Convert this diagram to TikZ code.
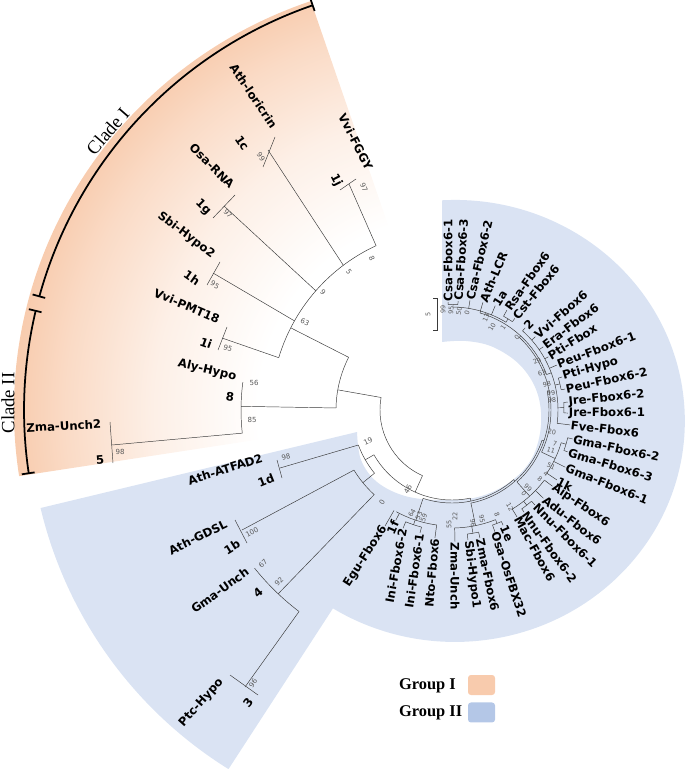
\documentclass[tikz,border=0pt]{standalone}
\usepackage{fontspec}
\setmainfont{DejaVu Sans}
\newfontfamily\cladefont{Liberation Serif}
\usetikzlibrary{calc,positioning}
\definecolor{grpIfill}{HTML}{F8CBAD}
\definecolor{grpIIfill}{HTML}{DAE3F3}
\definecolor{grpIIkey}{HTML}{B4C7E7}
\definecolor{branchgray}{HTML}{3A3A3A}
\pgfdeclareradialshading{grpIfade}{\pgfpoint{0bp}{0bp}}{color(0bp)=(white); color(11bp)=(white); color(17bp)=(grpIfill!30); color(22bp)=(grpIfill!70); color(25bp)=(grpIfill); color(50bp)=(grpIfill)}

\begin{document}
\begin{tikzpicture}[x=0.03cm, y=0.03cm,
  br/.style={draw=branchgray, line width=0.4pt},
  lbl/.style={font=\fontsize{10}{12}\selectfont\bfseries, inner sep=0.6pt},
  bs/.style={font=\fontsize{6}{7}\selectfont, text=black!65, inner sep=0pt},
  bsr/.style={font=\fontsize{5.5}{6}\selectfont, text=black!65, inner sep=0pt},
  cladebar/.style={draw=black, line width=1.5pt},
  cladetxt/.style={font=\cladefont\fontsize{16}{18}\selectfont},
  legtxt/.style={font=\cladefont\bfseries\fontsize{14}{16}\selectfont, anchor=west},
  legkey/.style={minimum width=0.81cm, minimum height=0.6cm, rounded corners=2.5pt, inner sep=0pt}
]
\useasboundingbox (0,0) rectangle (685,-769);
\coordinate (C) at (452,-410);

% group backgrounds
\begin{scope}
  \clip (C) -- (310.8,-1.1) arc[start angle=108.8, end angle=188.8, x radius=438, y radius=432] -- cycle;
  \shade[shading=grpIfade] (C) circle (440);
\end{scope}
\fill[grpIIfill] (442,-200.3) arc[start angle=93.2, end angle=-122, x radius=230, y radius=221]
  -- ($(C)+(238.1:423)$) arc[start angle=238.1, end angle=193.4, radius=423]
  -- plot[smooth, tension=0.6] coordinates {(357,-432) (361,-460) (377,-482) (405,-496) (440,-500) (478,-497) (510,-482) (532,-458) (541,-425) (537,-392) (520,-365) (493,-347) (466,-341) (442,-342)} -- cycle;

% clade bars
\draw[cladebar] ($(C)+(109:428)$) arc[start angle=109, end angle=164.6, radius=428];
\draw[cladebar] ($(C)+(166.6:428)$) arc[start angle=166.6, end angle=188.5, radius=428];
\foreach \a in {109,164.6,166.6,188.5}
  \draw[cladebar] ($(C)+(\a:422)$) -- ($(C)+(\a:435)$);
\node[cladetxt, rotate=49] (cladeI) at ($(C)+(141:443)$) {Clade I};
\node[cladetxt, rotate=90] (cladeII) at (8,-403) {Clade II};

% inner arcs (polar round C)
\foreach \a/\b/\r in {114.8/163.2/181, 153/179/116, 172.4/186.3/211, 170/245.8/72,
    209.85/281.7/90, 200.5/219.2/100, 211.5/227.4/115, 218.7/232.8/253,
    58.4/89.45/103, 86.8/92.1/105.5, 55.6/61.2/107,
    -7.2/48.3/106, 10.5/16.7/111, -1.5/3.9/112,
    -33.7/-16.7/114, -19.9/-13.5/119,
    -58.7/-37.2/116, -54.8/-48.9/121,
    -88.7/-68.35/118, -70.6/-66.1/122, -83/-77.7/125,
    -118.7/-97.6/116, -112.5/-104.6/121,
    20.55/73.9/101, -25.2/47.2/99, -47.95/11/97, -78.5/-18.5/95, -108.15/-48.5/93}
  \draw[br] ($(C)+(\a:\r)$) arc[start angle=\a, end angle=\b, radius=\r];

% radial links between nodes
\foreach \a/\r/\b/\s in {153/116/153/181, 179/116/179/211, 170/72/170/116, 245.8/72/245.8/90,
    209.85/90/209.85/100, 219.2/100/219.2/115, 227.4/115/226.6/253, 281.7/90/281.7/93,
    89.45/103/89.45/105.5, 58.4/103/58.4/107, 13.6/106/13.6/111, 1.2/106/1.2/112,
    -16.7/114/-16.7/119, -51.85/116/-51.85/121, -68.35/118/-68.35/122, -80.35/118/-80.35/125,
    -108.55/116/-108.55/121, 73.9/101/73.9/103, 20.55/101/20.55/106, 47.2/99/47.2/101,
    -25.2/99/-25.2/114, 11/97/11/99, -47.95/97/-47.95/116, -18.5/95/-18.5/97,
    -78.5/95/-78.5/118, -48.5/93/-48.5/95, -108.15/93/-108.15/116}
  \draw[br] ($(C)+(\a:\r)$) -- ($(C)+(\b:\s)$);

% long branches to the leaf pairs
\foreach \a/\r/\x/\y in {114.8/181/349/184, 126.9/181/268/150, 138.8/181/224/206,
    150.5/181/213/273, 163.2/181/222/338, 186.3/211/112/445, 200.5/100/280/468,
    211.5/115/242/530, 232.8/253/245/687}
  \draw[br] ($(C)+(\a:\r)$) -- (\x,-\y);
\foreach \x/\y/\u/\v in {356/179/340/190, 275/137/263/167, 235/195/213/218, 220/262/207/285,
    227/327/218/350, 110/422/113/463, 277/460/282/478, 235/520/247/543, 230/675/258/695}
  \draw[br] (\x,-\y) -- (\u,-\v);
\draw[br] (433,-298) -- (437,-298) -- (437,-330) -- (433,-330);
\node[bsr, rotate=90] (topfive) at (428,-314) {5};

% leaf labels, outer groups
\foreach \x/\y/\r/\t [count=\i] in {370/170/-63/Vvi-FGGY, 275/128/-56/Ath-loricrin,
    233/187/-45/Osa-RNA, 214/256/-37/Sbi-Hypo2, 220/320/-23/Vvi-PMT18, 237/377/-13/Aly-Hypo,
    102/424/3/Zma-Unch2, 263/457/18/Ath-ATFAD2, 227/523/26/Ath-GDSL, 248/570/36/Gma-Unch,
    222/680/48/Ptc-Hypo}
  \node[lbl, anchor=east, rotate=\r] (gene\i) at (\x,-\y) {\t};
\foreach \x/\y/\r/\t [count=\i] in {336/180/-63/1j, 242/143/-56/1c, 203/207/-45/1g,
    192/278/-35/1h, 206/343/-20/1i, 230/397/-8/8, 100/460/5/5, 266/480/22/1d,
    232/547/32/1b, 258/593/40/4, 248/703/52/3}
  \node[lbl, rotate=\r] (sub\i) at (\x,-\y) {\t};

% leaf labels, ring
\foreach \a/\n/\r/\o/\t [count=\i] in {92.1/105.5/108/90/Csa-Fbox6-1, 86.8/105.5/109/86/Csa-Fbox6-3,
    80.7/103/111/77/Csa-Fbox6-2, 74/103/112/67/Ath-LCR, 67.5/103/113/58/1a,
    61.2/107/114/55/Rsa-Fbox6, 55.6/107/111/51/Cst-Fbox6, 48.3/106/110/45/2,
    41.3/106/111/41/Vvi-Fbox6, 34.7/106/111/37/Era-Fbox6, 28.9/106/110/32/Pti-Fbox,
    23.2/106/114/21/Peu-Fbox6-1, 16.7/111/115/16/Pti-Hypo, 10.5/111/115/12/Peu-Fbox6-2,
    3.9/112/116/6/Jre-Fbox6-2, -1.5/112/116/0/Jre-Fbox6-1, -7.2/106/119/-7/Fve-Fbox6,
    -13.5/119/124/-12/Gma-Fbox6-2, -19.9/119/123/-17/Gma-Fbox6-3, -26.8/114/127/-22/Gma-Fbox6-1,
    -33.7/114/126/-27/1k, -37.2/116/126/-34/Aip-Fbox6, -44/116/127/-38/Adu-Fbox6,
    -48.9/121/126/-45/Nnu-Fbox6-1, -54.8/121/125/-54/Nnu-Fbox6-2, -58.7/116/125/-61/Mac-Fbox6,
    -66.1/122/126/-66/1e, -70.6/122/129/-72/Osa-OsFBX32, -77.7/125/131/-78/Zma-Fbox6,
    -83/125/131/-83/Sbi-Hypo1, -88.7/118/132/-90/Zma-Unch}
  {\draw[br] ($(C)+(\a:\n)$) -- ($(C)+(\a:\r)$);
   \node[lbl, anchor=west, rotate=\o] (ring\i) at ($(C)+(\a:\r)$) {\t};}
\foreach \a/\n/\r/\o/\t [count=\i] in {-97.6/116/129/85/Nto-Fbox6, -104.6/121/127/81.5/Ini-Fbox6-1,
    -112.5/121/128/79.5/Ini-Fbox6-2, -117/116/124/66/1f, -120/116/134/57/Egu-Fbox6}
  {\draw[br] ($(C)+(\a:\n)$) -- ($(C)+(\a:\r)$);
   \node[lbl, anchor=east, rotate=\o] (ringb\i) at ($(C)+(\a:\r)$) {\t};}

% bootstrap values
\foreach \x/\y/\r/\t [count=\i] in {364/187/-65/97, 261/157/-55/99, 228/214/-45/97, 215/285/-30/95,
    228/348/-18/95, 254/383/0/56, 252/420/0/85, 120/452/0/98, 372/258/-65/8, 349/272/-55/5,
    323/292/-45/9, 305/322/-25/63, 286/457/15/98, 252/532/28/100, 263/564/45/67,
    279/582/45/92, 253/683/55/96, 368/441/25/19, 408/489/60/46, 382/502/60/0}
  \node[bs, rotate=\r] (bl\i) at (\x,-\y) {\t};
\foreach \x/\y/\r/\t [count=\i] in {443/309/90/99, 451/310/86/95, 459/311/80/50, 467/313/72/0,
    486/318/67/13, 492/327/60/10, 503/327/55/1, 517/337/45/0, 537/361/25/29, 542/373/20/63,
    547/384/12/98, 551/393/6/99, 552/400/3/98, 552/432/-8/20, 555/444/-15/7, 551/450/-15/11,
    551/466/-25/51, 546/474/-35/4, 540/479/-40/8, 528/488/-45/99, 524/494/-50/0,
    510/507/-60/12, 497/515/-70/8, 482/519/-78/95, 473/523/-82/96, 455/516/90/22,
    449/524/90/55, 412/513/60/64, 419/516/66/53, 424/518/72/59}
  \node[bsr, rotate=\r] (br\i) at (\x,-\y) {\t};

% legend
\node[legkey, fill=grpIfill] (keyI) at (481.5,-685) {};
\node[legkey, fill=grpIIkey, below=0.21cm of keyI] (keyII) {};
\node[legtxt] (legI) at (395,-686) {Group I};
\node[legtxt] (legII) at (395,-713) {Group II};
\end{tikzpicture}
\end{document}
